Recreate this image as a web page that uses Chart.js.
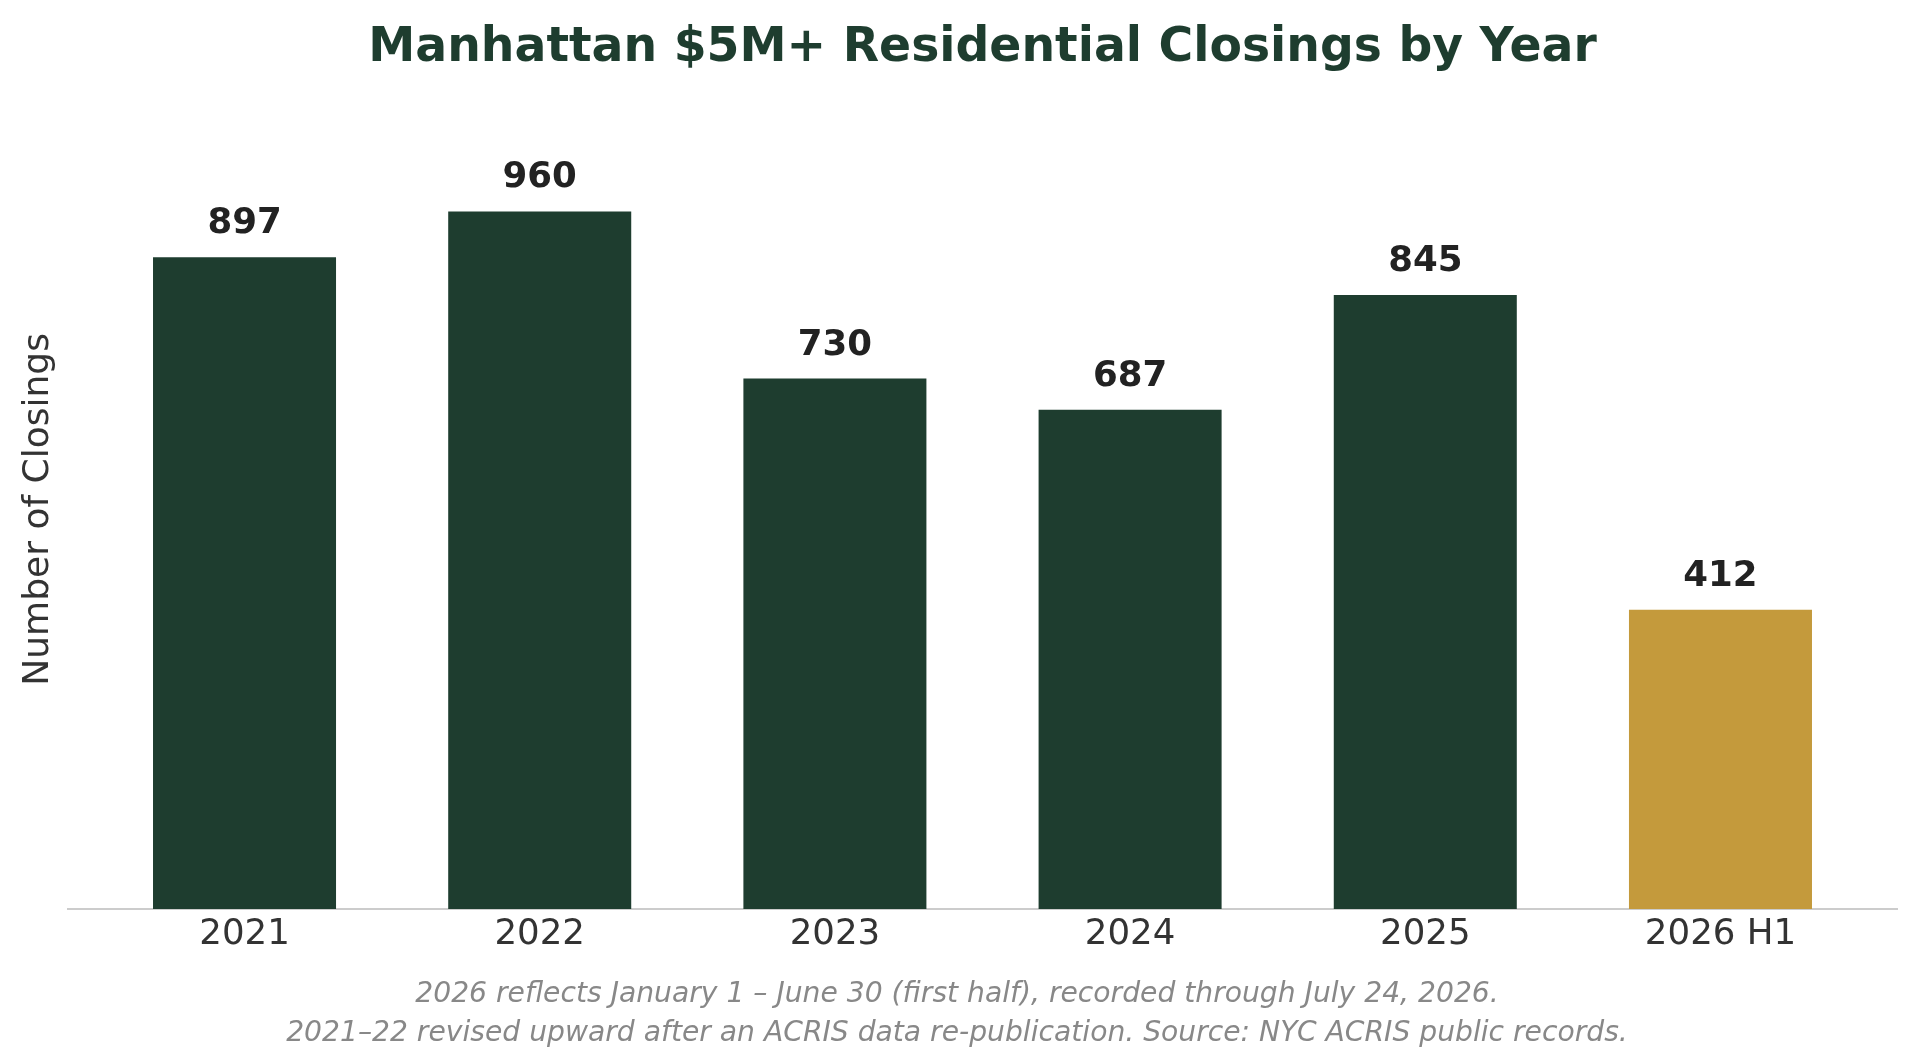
<!DOCTYPE html>
<html>
<head>
<meta charset="utf-8">
<title>Manhattan $5M+ Residential Closings by Year</title>
<script src="https://cdn.jsdelivr.net/npm/chart.js@4.4.1/dist/chart.umd.min.js"></script>
<style>
    html, body { margin: 0; padding: 0; background: #ffffff; }
    #grafico { display: block; }
</style>
</head>
<body>
<canvas id="grafico" width="1920" height="1058" style="width:1920px;height:1058px;"></canvas>
<script>
// dados
const anos = ['2021', '2022', '2023', '2024', '2025', '2026 H1'];
const fechamentos = [897, 960, 730, 687, 845, 412];
const tituloGrafico = 'Manhattan $5M+ Residential Closings by Year';
const tituloEixoY = 'Number of Closings';
const notas = [
    '2026 reflects January 1 \u2013 June 30 (first half), recorded through July 24, 2026.',
    '2021\u201322 revised upward after an ACRIS data re-publication. Source: NYC ACRIS public records.'
];

const verde = '#1e3d2f';
const dourado = '#c49a3c';

Chart.defaults.font.family = "'DejaVu Sans', sans-serif";

// rótulos com o valor acima de cada barra
const rotulosValores = {
    id: 'rotulosValores',
    afterDatasetsDraw(chart) {
        const ctx = chart.ctx;
        const meta = chart.getDatasetMeta(0);
        ctx.save();
        ctx.font = "bold 35.6px 'DejaVu Sans', sans-serif";
        ctx.fillStyle = '#222222';
        ctx.textAlign = 'center';
        ctx.textBaseline = 'alphabetic';
        meta.data.forEach(function(barra, i) {
            ctx.fillText(String(fechamentos[i]), barra.x, barra.y - 24);
        });
        ctx.restore();
    }
};

const context = document.getElementById('grafico').getContext('2d');

let chartInstance = new Chart(context, {
    type: 'bar',
    data: {
        datasets: [
            {
                label: tituloEixoY,
                data: fechamentos.map((v, i) => ({ x: i, y: v })),
                backgroundColor: (c) => anos[c.dataIndex].includes('H1') ? dourado : verde,
                borderWidth: 0,
                barPercentage: 0.62,
                categoryPercentage: 1,
                xAxisID: 'x',
                yAxisID: 'y',
            },
        ],
    },
    options: {
        responsive: false,
        devicePixelRatio: 1,
        animation: false,
        layout: {
            padding: { left: 17, right: 23, top: 0, bottom: 0 },
        },
        plugins: {
            legend: { display: false },
            tooltip: { enabled: false },
            title: { display: false },
            subtitle: {
                display: true,
                position: 'bottom',
                text: notas,
                color: '#888888',
                font: { size: 28.2, style: 'italic', lineHeight: 1.36 },
                padding: { top: 14.9, bottom: 5.5 },
            },
        },
        scales: {
            x: {
                type: 'linear',
                position: 'bottom',
                min: -0.598,
                max: 5.598,
                offset: false,
                grid: { display: false, drawTicks: false },
                border: { display: true, color: '#cccccc', width: 2 },
                ticks: {
                    stepSize: 1,
                    includeBounds: false,
                    autoSkip: false,
                    maxRotation: 0,
                    padding: 4.6,
                    color: '#333333',
                    font: { size: 35.6 },
                    callback: (valor) => anos[valor] !== undefined ? anos[valor] : '',
                },
            },
            topo: {
                axis: 'x',
                type: 'linear',
                position: 'top',
                display: true,
                grid: { display: false, drawTicks: false },
                border: { display: false },
                ticks: { display: false },
                title: {
                    display: true,
                    text: tituloGrafico,
                    color: verde,
                    font: { size: 47.3, weight: 'bold' },
                    padding: { top: 20, bottom: 33 },
                },
            },
            y: {
                position: 'left',
                min: 0,
                max: 1100,
                grid: { display: false, drawTicks: false },
                border: { display: false },
                ticks: { display: false },
                title: {
                    display: true,
                    text: tituloEixoY,
                    color: '#333333',
                    font: { size: 36 },
                    padding: { top: 0, bottom: 7.8 },
                },
            },
        },
    },
    plugins: [rotulosValores],
});
</script>
</body>
</html>
